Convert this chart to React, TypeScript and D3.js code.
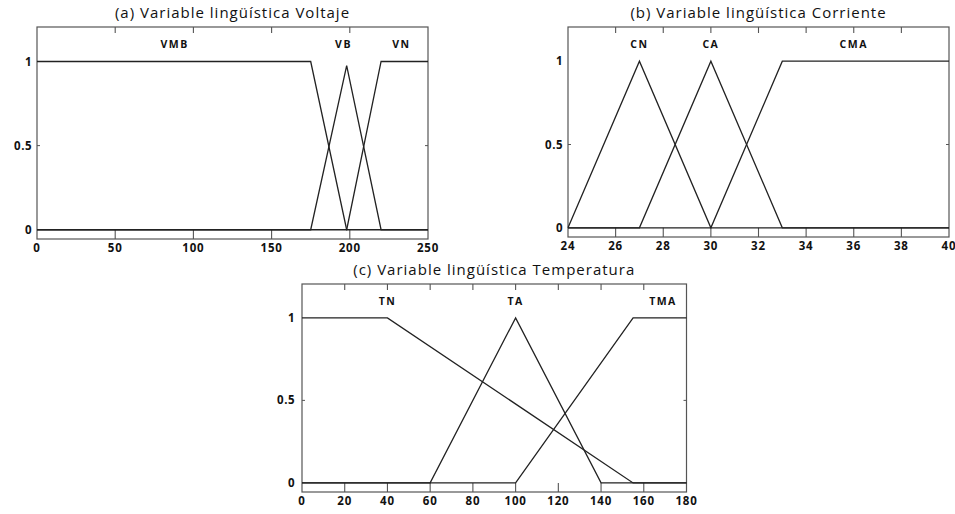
import React from "react";
import * as d3 from "d3";

type Pt = [number, number];

// Panel (a) Voltaje
const voltTicks = [0, 50, 100, 150, 200, 250];
const voltVMB: Pt[] = [[0, 1], [175, 1], [198, 0], [250, 0]];
const voltVB: Pt[] = [[0, 0], [175, 0], [198, 0.975], [220, 0], [250, 0]];
const voltVN: Pt[] = [[0, 0], [198, 0], [220, 1], [250, 1]];
const voltLabels: [string, number, number][] = [["VMB", 88, 1.1], ["VB", 196, 1.1], ["VN", 233, 1.1]];

// Panel (b) Corriente
const currTicks = [24, 26, 28, 30, 32, 34, 36, 38, 40];
const currCN: Pt[] = [[24, 0], [27, 1], [30, 0], [40, 0]];
const currCA: Pt[] = [[24, 0], [27, 0], [30, 1], [33, 0], [40, 0]];
const currCMA: Pt[] = [[24, 0], [30, 0], [33, 1], [40, 1]];
const currLabels: [string, number, number][] = [["CN", 27, 1.1], ["CA", 30, 1.1], ["CMA", 36, 1.1]];

// Panel (c) Temperatura
const tempTicks = [0, 20, 40, 60, 80, 100, 120, 140, 160, 180];
const tempTN: Pt[] = [[0, 1], [40, 1], [155, 0], [180, 0]];
const tempTA: Pt[] = [[0, 0], [60, 0], [100, 1], [140, 0], [180, 0]];
const tempTMA: Pt[] = [[0, 0], [100, 0], [155, 1], [180, 1]];
const tempLabels: [string, number, number][] = [["TN", 40, 1.1], ["TA", 100, 1.1], ["TMA", 169, 1.1]];

const yTicks = [0, 0.5, 1];
const yTickLabels = ["0", "0.5", "1"];

const FONT = "'Open Sans', 'DejaVu Sans', sans-serif";

type PanelProps = {
  title: string;
  left: number; right: number; top: number; bottom: number;
  titleY: number; yLabelGap: number;
  xDomain: [number, number];
  xTicks: number[];
  series: Pt[][];
  labels: [string, number, number][];
};

function Panel(p: PanelProps) {
  const x = d3.scaleLinear().domain(p.xDomain).range([p.left, p.right]);
  const y = d3.scaleLinear().domain([-0.055, 1.205]).range([p.bottom, p.top]);
  const line = d3.line<Pt>().x((d) => x(d[0])).y((d) => y(d[1]));
  const y0 = y(0);
  const frame = "#555";
  return (
    <g>
      <text x={(p.left + p.right) / 2} y={p.titleY} textAnchor="middle" fontFamily={FONT} fontSize={15} letterSpacing={1} fill="#111">
        {p.title}
      </text>
      <rect x={p.left} y={p.top} width={p.right - p.left} height={p.bottom - p.top} fill="#fff" stroke={frame} strokeWidth={1.2} />
      {p.xTicks.slice(1, -1).map((t) => (
        <g key={"xt" + t}>
          <line x1={x(t)} x2={x(t)} y1={p.top} y2={p.top + 6} stroke={frame} strokeWidth={1.1} />
          <line x1={x(t)} x2={x(t)} y1={p.bottom} y2={y0} stroke={frame} strokeWidth={1.1} />
        </g>
      ))}
      {p.xTicks.map((t) => (
        <text key={"xl" + t} x={x(t)} y={p.bottom + 13} textAnchor="middle" fontFamily={FONT} fontWeight="bold" fontSize={11.5} letterSpacing={0.8} fill="#111">
          {t}
        </text>
      ))}
      {yTicks.map((t, i) => (
        <text key={"yl" + t} x={p.left - p.yLabelGap} y={y(t)} dy="0.35em" textAnchor="end" fontFamily={FONT} fontWeight="bold" fontSize={11.5} letterSpacing={0.5} fill="#111">
          {yTickLabels[i]}
        </text>
      ))}
      <line x1={p.left} x2={p.left + 3} y1={y(0.5)} y2={y(0.5)} stroke={frame} strokeWidth={1} />
      <line x1={p.right - 3} x2={p.right} y1={y(0.5)} y2={y(0.5)} stroke={frame} strokeWidth={1} />
      {p.series.map((s, i) => (
        <path key={"s" + i} d={line(s) || ""} fill="none" stroke="#222" strokeWidth={1.3} />
      ))}
      {p.labels.map(([name, lx, ly]) => (
        <text key={name} x={x(lx)} y={y(ly)} dy="0.35em" textAnchor="middle" fontFamily={FONT} fontWeight="bold" fontSize={10.5} letterSpacing={1.5} fill="#111">
          {name}
        </text>
      ))}
    </g>
  );
}

export default function App() {
  return (
    <svg width={955} height={514} style={{ position: "absolute", left: 0, top: 0, background: "#fff" }}>
      <rect x={0} y={0} width={955} height={514} fill="#fff" />
      <Panel
        title="(a) Variable lingüística Voltaje"
        left={37} right={428} top={27} bottom={239}
        titleY={18} yLabelGap={5}
        xDomain={[0, 250]} xTicks={voltTicks}
        series={[voltVMB, voltVB, voltVN]} labels={voltLabels}
      />
      <Panel
        title="(b) Variable lingüística Corriente"
        left={568} right={949} top={27} bottom={237}
        titleY={18} yLabelGap={5}
        xDomain={[24, 40]} xTicks={currTicks}
        series={[currCN, currCA, currCMA]} labels={currLabels}
      />
      <Panel
        title="(c) Variable lingüística Temperatura"
        left={302} right={686.5} top={284} bottom={492}
        titleY={275} yLabelGap={7}
        xDomain={[0, 180]} xTicks={tempTicks}
        series={[tempTN, tempTA, tempTMA]} labels={tempLabels}
      />
    </svg>
  );
}
